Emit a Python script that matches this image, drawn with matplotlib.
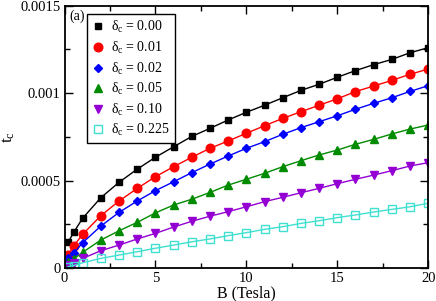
import matplotlib
matplotlib.use("Agg")
import matplotlib.pyplot as plt
from matplotlib.ticker import MultipleLocator, FixedFormatter, FixedLocator

B = [0.2, 0.5, 1, 2, 3, 4, 5, 6, 7, 8, 9, 10, 11, 12, 13, 14, 15, 16, 17, 18, 19, 20]

t_000 = [1.47e-4, 2.03e-4, 2.85e-4, 4.02e-4, 4.90e-4, 5.65e-4, 6.33e-4, 6.93e-4, 7.52e-4, 7.98e-4,
         8.46e-4, 8.90e-4, 9.30e-4, 9.73e-4, 1.015e-3, 1.050e-3, 1.090e-3, 1.128e-3, 1.162e-3,
         1.192e-3, 1.230e-3, 1.259e-3]
t_001 = [7.4e-5, 1.26e-4, 1.93e-4, 2.99e-4, 3.83e-4, 4.55e-4, 5.22e-4, 5.79e-4, 6.33e-4, 6.84e-4,
         7.26e-4, 7.70e-4, 8.13e-4, 8.55e-4, 8.93e-4, 9.30e-4, 9.67e-4, 1.008e-3, 1.040e-3,
         1.072e-3, 1.107e-3, 1.137e-3]
t_002 = [5.5e-5, 8.4e-5, 1.45e-4, 2.40e-4, 3.18e-4, 3.83e-4, 4.42e-4, 4.93e-4, 5.45e-4, 5.94e-4,
         6.40e-4, 6.84e-4, 7.22e-4, 7.64e-4, 8.02e-4, 8.36e-4, 8.70e-4, 9.07e-4, 9.41e-4,
         9.73e-4, 1.009e-3, 1.042e-3]
t_005 = [3.2e-5, 5.1e-5, 9.0e-5, 1.60e-4, 2.13e-4, 2.61e-4, 3.15e-4, 3.60e-4, 3.93e-4, 4.32e-4,
         4.74e-4, 5.07e-4, 5.41e-4, 5.79e-4, 6.13e-4, 6.46e-4, 6.74e-4, 7.07e-4, 7.35e-4,
         7.66e-4, 7.94e-4, 8.17e-4]
t_010 = [1.8e-5, 2.9e-5, 5.5e-5, 9.9e-5, 1.31e-4, 1.66e-4, 1.98e-4, 2.34e-4, 2.67e-4, 2.96e-4,
         3.22e-4, 3.50e-4, 3.79e-4, 4.04e-4, 4.30e-4, 4.55e-4, 4.82e-4, 5.07e-4, 5.31e-4,
         5.56e-4, 5.83e-4, 6.02e-4]
t_0225 = [8e-6, 1.4e-5, 3.0e-5, 5.5e-5, 7.4e-5, 9.3e-5, 1.13e-4, 1.31e-4, 1.50e-4, 1.66e-4,
          1.85e-4, 2.02e-4, 2.21e-4, 2.36e-4, 2.55e-4, 2.70e-4, 2.88e-4, 3.03e-4, 3.20e-4,
          3.35e-4, 3.50e-4, 3.70e-4]

labels = [r"$\delta_c$ = 0.00", r"$\delta_c$ = 0.01", r"$\delta_c$ = 0.02",
          r"$\delta_c$ = 0.05", r"$\delta_c$ = 0.10", r"$\delta_c$ = 0.225"]
series = [t_000, t_001, t_002, t_005, t_010, t_0225]

x_ticks = [0, 5, 10, 15, 20]
x_ticklabels = ["0", "5", "10", "15", "20"]
y_ticks = [0, 0.0005, 0.001, 0.0015]
y_ticklabels = ["0", "0.0005", "0.001", "0.0015"]

plt.rcParams['font.family'] = ['Liberation Serif', 'DejaVu Serif']
plt.rcParams['mathtext.fontset'] = 'custom'
plt.rcParams['mathtext.rm'] = 'Liberation Serif'
plt.rcParams['mathtext.it'] = 'Liberation Serif'

colors = ["black", "#ff0000", "#0000ff", "#008b00", "#9400d3", "#40e0d0"]
markers = ["s", "o", "D", "^", "v", "s"]
sizes = [5, 6.2, 4.3, 5.5, 5.5, 5.2]

fig = plt.figure(figsize=(4.36, 3.01), dpi=100)
ax = fig.add_axes([0.148, 0.1096, 0.834, 0.872])

for s, lab, c, m, ms in zip(series, labels, colors, markers, sizes):
    if lab.endswith("0.225"):
        ax.plot(B, s, color=c, marker=m, ms=ms, mfc="none", mew=1.0, lw=1.0, label=lab)
    else:
        ax.plot(B, s, color=c, marker=m, ms=ms, mec=c, mfc=c, lw=1.0, label=lab)

ax.set_xlim(0, 20)
ax.set_ylim(0, 0.0015)
ax.xaxis.set_major_locator(FixedLocator(x_ticks))
ax.xaxis.set_major_formatter(FixedFormatter(x_ticklabels))
ax.yaxis.set_major_locator(FixedLocator(y_ticks))
ax.yaxis.set_major_formatter(FixedFormatter(y_ticklabels))
ax.xaxis.set_minor_locator(MultipleLocator(2.5))
ax.yaxis.set_minor_locator(MultipleLocator(0.00025))
ax.tick_params(which="both", direction="in", top=True, right=True, labelsize=10.5, pad=3)
ax.tick_params(which="major", length=6, width=1)
ax.tick_params(which="minor", length=3.5, width=1)
for sp in ax.spines.values():
    sp.set_linewidth(1.3)

ax.set_xlabel("B (Tesla)", fontsize=11.5, labelpad=0)
ax.set_ylabel(r"t$_c$", fontsize=12.5, labelpad=2)

ax.text(0.012, 0.985, "(a)", transform=ax.transAxes, fontsize=10, va="top", ha="left")

leg = ax.legend(loc="upper left", bbox_to_anchor=(0.062, 0.966), fontsize=10,
                frameon=True, fancybox=False, edgecolor="black", framealpha=1,
                handlelength=0.9, handletextpad=0.5, labelspacing=0.32,
                borderpad=0.35, borderaxespad=0, numpoints=1)
leg.get_frame().set_linewidth(1.0)
for h in leg.legend_handles:
    h.set_linestyle("none")

fig.savefig("out.png", dpi=100)
